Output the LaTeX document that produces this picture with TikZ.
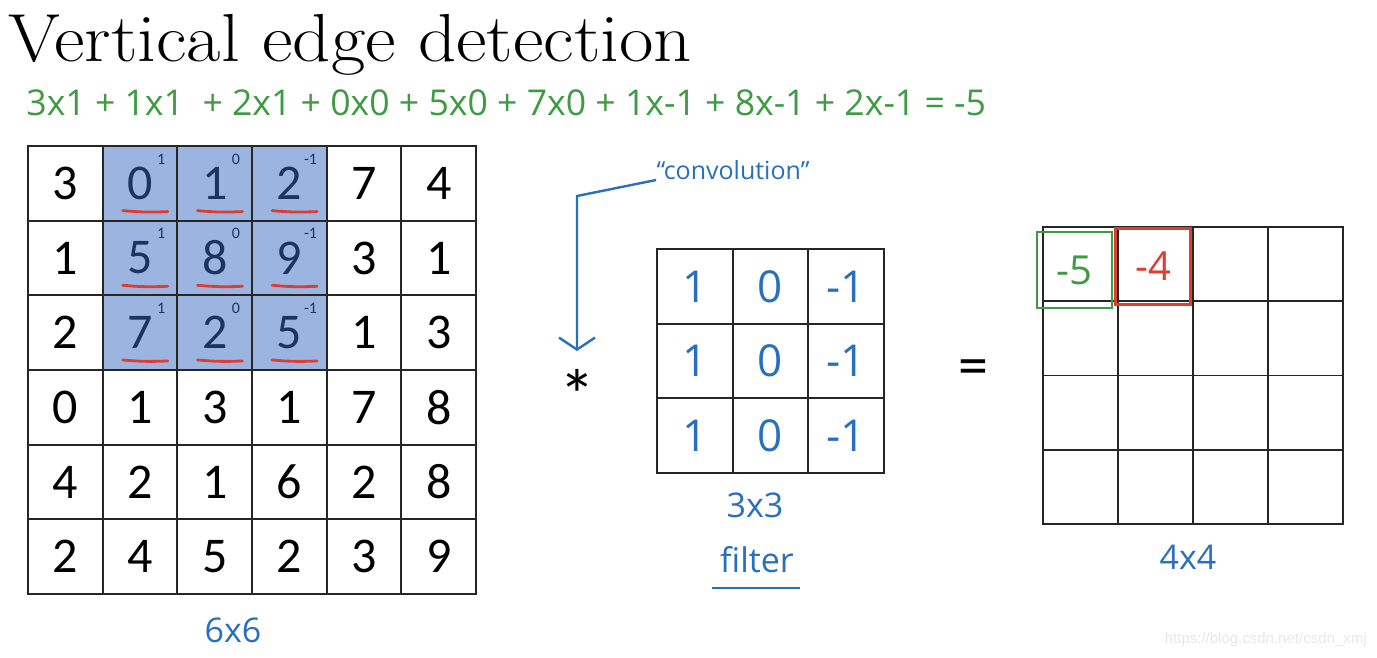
\documentclass[tikz,border=0pt]{standalone}
\usepackage{fontspec}
\newfontfamily\cellfont{Carlito}
\newfontfamily\handfont{Open Sans}
\newfontfamily\markfont{Liberation Sans}
\usetikzlibrary{arrows.meta}
\definecolor{boxBlue}{RGB}{155,180,224}
\definecolor{digitNavy}{RGB}{28,52,98}
\definecolor{inkBlue}{RGB}{40,112,190}
\definecolor{inkGreen}{RGB}{62,155,66}
\definecolor{inkRed}{RGB}{222,62,50}

\tikzset{
  cell/.style={draw=black!85, line width=0.9pt, minimum size=37.35pt, inner sep=0pt,
    font=\cellfont\fontsize{25}{25}\selectfont},
  fcell/.style={draw=black!85, line width=0.9pt, minimum width=37.8pt, minimum height=37.35pt,
    inner sep=0pt, text=inkBlue, font=\handfont\fontsize{22}{22}\selectfont},
  ocell/.style={draw=black!85, line width=0.9pt, minimum width=37.5pt, minimum height=37.1pt,
    inner sep=0pt},
  weight/.style={inner sep=0pt, text=digitNavy, font=\cellfont\fontsize{8}{8}\selectfont},
  redmark/.style={inkRed, line width=1.4pt, line cap=round},
  hand/.style={inner sep=0pt, text=inkBlue, font=\handfont\fontsize{17}{17}\selectfont},
  resbox/.style={line width=1.1pt, minimum width=37.5pt, minimum height=38pt, inner sep=0pt,
    font=\handfont\fontsize{20}{20}\selectfont}
}

\begin{document}
\begin{tikzpicture}[x=0.5pt, y=-0.5pt, >={Straight Barb[length=6pt, width=18pt]}]
  \fill[white] (0,0) rectangle (1377,658);
  \useasboundingbox (0,0) rectangle (1377,658);

  % title and the worked sum
  \node[anchor=base west, inner sep=0pt, font=\fontsize{34}{34}\selectfont] (title) at (8,62)
    {\scalebox{1.1}[1]{Vertical edge detection}};
  \node[anchor=west, inner sep=0pt, text=inkGreen, font=\handfont\fontsize{17.8}{17.8}\selectfont]
    (sum) at (26,103) {3x1 + 1x1 \ + 2x1 + 0x0 + 5x0 + 7x0 + 1x-1 + 8x-1 + 2x-1 = -5};

  % ------- 6x6 image -------
  \foreach \row [count=\r from 0] in {{3,0,1,2,7,4},{1,5,8,9,3,1},{2,7,2,5,1,3},
                                      {0,1,3,1,7,8},{4,2,1,6,2,8},{2,4,5,2,3,9}} {
    \foreach \v [count=\c from 0] in \row {
      \pgfmathtruncatemacro\hl{(\r<3)&&(\c>0)&&(\c<4)}
      \ifnum\hl=1 \def\cellfill{boxBlue}\def\celltext{digitNavy}%
      \else \def\cellfill{white}\def\celltext{black}\fi
      \node[cell, fill=\cellfill, text=\celltext] (in-\r-\c)
        at ({28+74.67*(\c+0.5)}, {146+74.67*(\r+0.5)}) {\v};
    }
  }
  % filter weights over the patch
  \foreach \r in {0,1,2} {
    \foreach \c/\w in {1/1,2/0,3/-1} {
      \node[weight] at ([xshift=-8.5pt, yshift=-7pt]in-\r-\c.north east) {\w};
      \draw[redmark] ([xshift=10.5pt, yshift=5.5pt]in-\r-\c.south west)
        to[bend right=4] ([xshift=33pt, yshift=5pt]in-\r-\c.south west);
    }
  }
  \node[hand] (size6) at (233,630) {6x6};

  % ------- 3x3 filter -------
  \foreach \row [count=\r from 0] in {{1,0,-1},{1,0,-1},{1,0,-1}} {
    \foreach \v [count=\c from 0] in \row {
      \node[fcell] (f-\r-\c) at ({657+75.67*(\c+0.5)}, {249+74.67*(\r+0.5)}) {\v};
    }
  }
  \node[inner sep=0pt, font=\cellfont\fontsize{36}{36}\selectfont] (star) at (577,395) {*};
  \node[hand, font=\handfont\fontsize{12.5}{12.5}\selectfont] (conv) at (733,170)
    {“convolution”};
  \coordinate (bend) at (577,196);
  \draw[inkBlue, line width=1.2pt, ->] ([yshift=-5pt]conv.west) -- (bend)
    -- ([yshift=9pt]star.north);
  \node[hand] (size3) at (755,505) {3x3};
  \node[hand] (filt) at (757,560) {filter};
  \draw[inkBlue, line width=1.2pt] (712,588) -- (800,588);

  \node[inner sep=0pt, font=\cellfont\fontsize{30}{30}\selectfont] (eq) at (973,373) {=};

  % ------- 4x4 output -------
  \foreach \r in {0,...,3} {
    \foreach \c in {0,...,3} {
      \node[ocell] (o-\r-\c) at ({1043+75*(\c+0.5)}, {227+74.25*(\r+0.5)}) {};
    }
  }
  \node[resbox, draw=inkGreen, text=inkGreen] (res1) at (1074.5,270) {-5};
  \node[resbox, draw=inkRed, text=inkRed] (res2) at (1153,266.5) {-4};
  \node[hand] (size4) at (1188,557) {4x4};

  \node[anchor=east, inner sep=0pt, text=black!9, font=\markfont\fontsize{7.5}{7.5}\selectfont]
    (wm) at (1367,640) {https://blog.csdn.net/csdn\_xmj};
\end{tikzpicture}
\end{document}
